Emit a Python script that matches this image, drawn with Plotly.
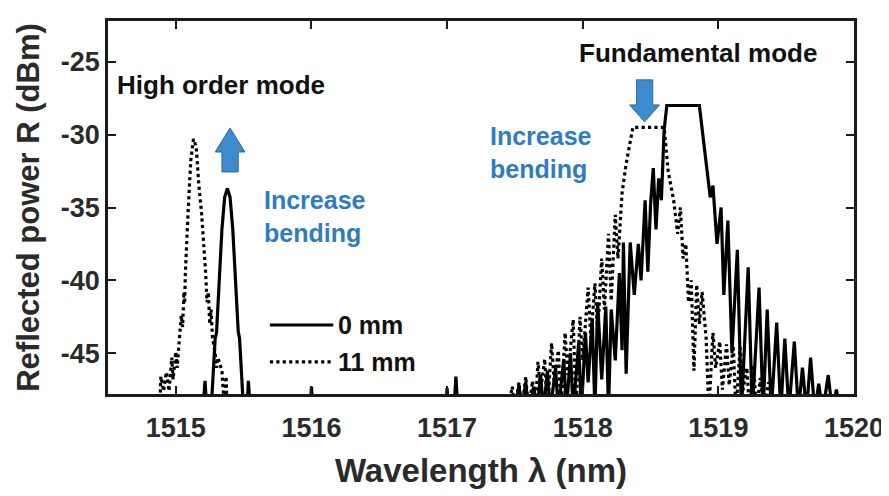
import plotly.graph_objects as go

# ---------------- data ----------------
FLOOR = -49.0  # noise floor below the visible range

wl_0mm = [1514.50, 1515.20, 1515.215, 1515.23, 1515.26, 1515.28, 1515.29, 1515.30, 1515.32, 1515.34,
          1515.36, 1515.38, 1515.40, 1515.42, 1515.44, 1515.46, 1515.47, 1515.48, 1515.50, 1515.525,
          1515.535, 1515.55, 1515.99, 1516.00, 1516.01, 1516.99, 1517.00, 1517.01, 1517.05, 1517.065,
          1517.08, 1517.50, 1517.53, 1517.55, 1517.58, 1517.60, 1517.64, 1517.66, 1517.69, 1517.71,
          1517.74, 1517.76, 1517.80, 1517.82, 1517.86, 1517.88, 1517.91, 1517.93, 1517.97, 1517.99,
          1518.02, 1518.04, 1518.07, 1518.09, 1518.11, 1518.14, 1518.17, 1518.19, 1518.21, 1518.24,
          1518.27, 1518.29, 1518.30, 1518.32, 1518.35, 1518.38, 1518.41, 1518.43, 1518.46, 1518.48,
          1518.50, 1518.52, 1518.54, 1518.56, 1518.58, 1518.60, 1518.62, 1518.86, 1518.90, 1518.94,
          1518.96, 1518.99, 1519.02, 1519.04, 1519.07, 1519.10, 1519.14, 1519.17, 1519.22, 1519.25,
          1519.30, 1519.33, 1519.36, 1519.39, 1519.43, 1519.46, 1519.49, 1519.52, 1519.56, 1519.59,
          1519.62, 1519.65, 1519.68, 1519.71, 1519.74, 1519.77, 1519.81, 1519.84, 1519.87, 1519.90,
          1520.00]
r_0mm = [FLOOR, FLOOR, -46.9, FLOOR, FLOOR, -45.5, -44.0, -43.6, -40.0, -36.5,
         -34.3, -33.7, -34.3, -36.5, -40.0, -43.5, -44.0, -46.0, FLOOR, FLOOR,
         -46.9, FLOOR, FLOOR, -47.3, FLOOR, FLOOR, -47.4, FLOOR, FLOOR, -46.6,
         FLOOR, FLOOR, -47.2, FLOOR, -47.0, FLOOR, -47.3, FLOOR, -46.5, FLOOR,
         -46.2, FLOOR, -46.0, FLOOR, -45.4, FLOOR, -45.0, FLOOR, -44.3, FLOOR,
         -43.6, -47.0, -42.6, FLOOR, -41.5, -46.8, -41.8, FLOOR, -42.0, -45.5,
         -39.5, -44.8, -37.4, -46.4, -37.4, -41.0, -37.5, -40.0, -34.5, -39.4,
         -34.8, -32.3, -36.5, -33.0, -34.5, -29.7, -28.0, -28.0, -31.0, -34.3,
         -33.5, -37.5, -35.0, -41.0, -35.9, -45.0, -37.9, FLOOR, -39.1, FLOOR,
         -40.5, FLOOR, -42.0, FLOOR, -42.9, FLOOR, -44.0, FLOOR, -44.2, FLOOR,
         -46.0, FLOOR, -45.3, FLOOR, -47.1, FLOOR, -46.5, FLOOR, -47.5, FLOOR,
         FLOOR]

wl_11mm = [1514.50, 1514.88, 1514.89, 1514.91, 1514.93, 1514.95, 1514.97, 1514.98, 1515.00, 1515.01,
           1515.03, 1515.04, 1515.05, 1515.06, 1515.065, 1515.07, 1515.09, 1515.11, 1515.13, 1515.15,
           1515.17, 1515.19, 1515.22, 1515.23, 1515.24, 1515.25, 1515.26, 1515.27, 1515.29, 1515.30,
           1515.31, 1515.34, 1515.36, 1515.37, 1515.38, 1517.45, 1517.48, 1517.50, 1517.53, 1517.55,
           1517.58, 1517.60, 1517.63, 1517.65, 1517.67, 1517.69, 1517.72, 1517.74, 1517.77, 1517.79,
           1517.82, 1517.84, 1517.87, 1517.89, 1517.93, 1517.95, 1517.98, 1518.00, 1518.04, 1518.06,
           1518.09, 1518.11, 1518.14, 1518.16, 1518.19, 1518.21, 1518.24, 1518.26, 1518.29, 1518.32,
           1518.37, 1518.60, 1518.63, 1518.67, 1518.70, 1518.72, 1518.74, 1518.76, 1518.78, 1518.80,
           1518.82, 1518.84, 1518.86, 1518.88, 1518.91, 1518.93, 1518.96, 1518.98, 1519.01, 1519.03,
           1519.06, 1519.08, 1519.11, 1519.13, 1519.16, 1519.18, 1519.21, 1519.23, 1519.26, 1519.28,
           1519.31, 1519.33, 1519.37, 1519.40, 1520.00]
r_11mm = [FLOOR, FLOOR, -46.6, -47.6, -46.3, -47.6, -45.3, -46.8, -44.9, -46.0,
          -43.6, -42.4, -43.2, -40.8, -41.6, -39.6, -35.4, -31.8, -30.3, -30.8,
          -33.5, -35.4, -39.5, -41.5, -40.8, -43.0, -42.0, -43.9, -45.0, -46.0,
          -45.3, -46.2, FLOOR, -46.6, FLOOR, FLOOR, -47.3, FLOOR, -47.0, FLOOR,
          -46.6, FLOOR, -46.9, FLOOR, -45.6, -47.5, -45.4, FLOOR, -44.3, -47.0,
          -44.8, FLOOR, -43.6, -46.5, -42.7, FLOOR, -42.5, -45.5, -40.5, -44.0,
          -40.2, -43.6, -38.5, -42.0, -36.8, -41.4, -35.5, -38.5, -34.0, -32.0,
          -29.5, -29.5, -32.5, -34.5, -36.8, -35.0, -38.5, -37.5, -41.5, -40.0,
          -46.2, -40.3, -43.0, -40.8, -44.0, FLOOR, -43.6, -46.0, -44.2, -47.5,
          -44.4, -47.2, -44.5, FLOOR, -44.6, -47.6, -46.0, FLOOR, -45.8, FLOOR,
          -46.7, FLOOR, -47.0, FLOOR, FLOOR]

series_names = ["0 mm", "11 mm"]
x_ticks = [1515, 1516, 1517, 1518, 1519, 1520]
y_ticks = [-45, -40, -35, -30, -25]

# ---------------- figure ----------------
FONT = "Liberation Sans, Arial, sans-serif"
BLUE = "#2F7CC2"
TXT = "#2a2a2a"

fig = go.Figure()
fig.add_trace(go.Scatter(x=wl_0mm, y=r_0mm, mode="lines", name=series_names[0],
                         line=dict(color="black", width=3.2), showlegend=False))
fig.add_trace(go.Scatter(x=wl_11mm, y=r_11mm, mode="lines", name=series_names[1],
                         line=dict(color="black", width=3.2, dash="dot"), showlegend=False))

# legend drawn inside the axes (long line samples as in the original)
leg_rows = [(0.185, "solid"), (0.086, "dot")]
for (py, dash), name in zip(leg_rows, series_names):
    fig.add_shape(type="line", xref="paper", yref="paper", x0=0.217, x1=0.302, y0=py, y1=py,
                  line=dict(color="black", width=3.2, dash=dash))
    fig.add_annotation(xref="paper", yref="paper", x=0.305, y=py, text=f"<b>{name}</b>",
                       showarrow=False, xanchor="left", yanchor="middle",
                       font=dict(family=FONT, size=25, color="#111"))

# block arrows (data coordinates)
def block_arrow(xc, y_tail, y_tip, y_headbase, half_shaft=0.060, half_head=0.110):
    return (f"M {xc-half_shaft},{y_tail} L {xc+half_shaft},{y_tail} L {xc+half_shaft},{y_headbase} "
            f"L {xc+half_head},{y_headbase} L {xc},{y_tip} L {xc-half_head},{y_headbase} "
            f"L {xc-half_shaft},{y_headbase} Z")

fig.add_shape(type="path", path=block_arrow(1515.40, -32.56, -29.54, -31.19),
              xref="x", yref="y", fillcolor="#3D8BCD", line=dict(color="#2A6AA5", width=1))
fig.add_shape(type="path", path=block_arrow(1518.456, -26.24, -29.12, -27.96),
              xref="x", yref="y", fillcolor="#3D8BCD", line=dict(color="#2A6AA5", width=1))

fig.add_annotation(x=1514.55, y=-26.6, text="<b>High order mode</b>", showarrow=False,
                   xanchor="left", yanchor="middle", font=dict(family=FONT, size=26, color="#111"))
fig.add_annotation(x=1518.85, y=-24.4, text="<b>Fundamental mode</b>", showarrow=False,
                   xanchor="center", yanchor="middle", font=dict(family=FONT, size=26, color="#111"))
fig.add_annotation(x=1515.635, y=-35.65, text="<b>Increase<br>bending</b>", showarrow=False,
                   xanchor="left", yanchor="middle", align="left",
                   font=dict(family=FONT, size=25, color=BLUE))
fig.add_annotation(x=1517.30, y=-31.25, text="<b>Increase<br>bending</b>", showarrow=False,
                   xanchor="left", yanchor="middle", align="left",
                   font=dict(family=FONT, size=25, color=BLUE))

axis_common = dict(showline=True, linecolor="#1a1a1a", linewidth=2.5, mirror="ticks",
                   ticks="inside", ticklen=8, tickwidth=2, tickcolor="#1a1a1a",
                   showgrid=False, zeroline=False, automargin=False,
                   tickfont=dict(family=FONT, size=27, color=TXT, weight="bold"))

fig.update_xaxes(range=[1514.5, 1520], tickvals=x_ticks, ticktext=[str(v) for v in x_ticks],
                 ticklabelstandoff=8,
                 title=dict(text="Wavelength λ (nm)", standoff=17,
                            font=dict(family=FONT, size=33, color=TXT, weight="bold")),
                 **axis_common)
fig.update_yaxes(range=[-47.8, -22.2], tickvals=y_ticks, ticktext=[str(v) for v in y_ticks],
                 title=dict(text="Reflected power R (dBm)", standoff=12,
                            font=dict(family=FONT, size=31, color=TXT, weight="bold")),
                 **axis_common)

# the page body has an 8 px margin, so the figure is drawn 8 px in from the window corner
fig.update_layout(
    width=879, height=486,
    margin=dict(l=100, r=33, t=13, b=100),
    plot_bgcolor="white", paper_bgcolor="white",
    showlegend=False,
)

fig.write_html("out.html")
